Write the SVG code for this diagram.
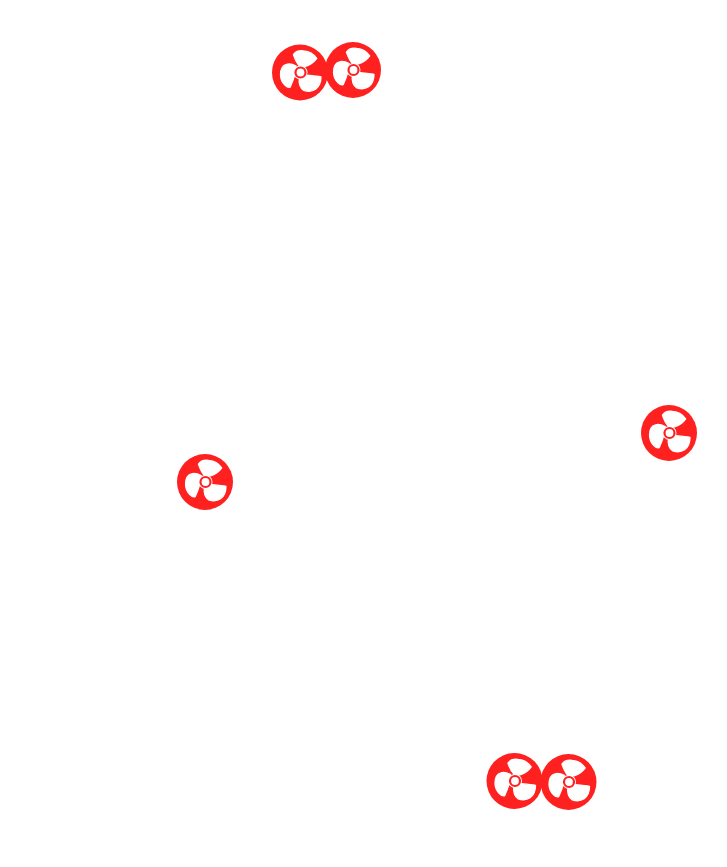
<svg xmlns="http://www.w3.org/2000/svg" width="727" height="867" viewBox="0 0 727 867">
<style>.disc{fill:#ff2020}.blade{fill:#fff;stroke:#fff;stroke-width:1.200;stroke-linejoin:round}.hub{fill:#fff;stroke:#ff2020;stroke-width:2.200}</style>
<defs>
<g id="fan">
<circle class="disc" r="28"/>
<g transform="translate(.5 0) scale(1.080)">
<path class="blade" d="M-6.500-16.500C-5-19-1-20.500 3-20C9-19.500 13-16 15-13C13-10 10-8 7-6.500C5-6 3-5 0-5C-3-8-5-12-6.500-16.500Z"/>
<path class="blade" d="M-18.500 2C-18.500-3-16.500-6.500-13-7.500C-10-8.500-7-7.500-4-6C-5-3-5-1-5 1C-6 5-7.500 9-9.500 13.500C-11 14-13 13-14.500 11.500C-17 9-18.500 5-18.500 2Z"/>
<path class="blade" d="M-1 5C2 6 5 4 6 2.500C11 3 16 3.500 19 4C19 9 17.500 13 14 15.500C11 17.500 6 17.500 3 16.500C0 15-2 10-1 5Z"/>
</g>
<circle fill="#fff" cx=".5" r="7"/>
<circle class="hub" cx=".5" r="5"/>
</g>
</defs>
<rect width="727" height="867" fill="#fff"/>
<g id="fan-1"><use href="#fan" x="300" y="72.500"/></g>
<g id="fan-2"><use href="#fan" x="353" y="70"/></g>
<g id="fan-3"><use href="#fan" x="205" y="482"/></g>
<g id="fan-4"><use href="#fan" x="669" y="433"/></g>
<g id="fan-5"><use href="#fan" x="514.500" y="781"/></g>
<g id="fan-6"><use href="#fan" x="568.500" y="782"/></g>
<g id="connectors"/>
</svg>
